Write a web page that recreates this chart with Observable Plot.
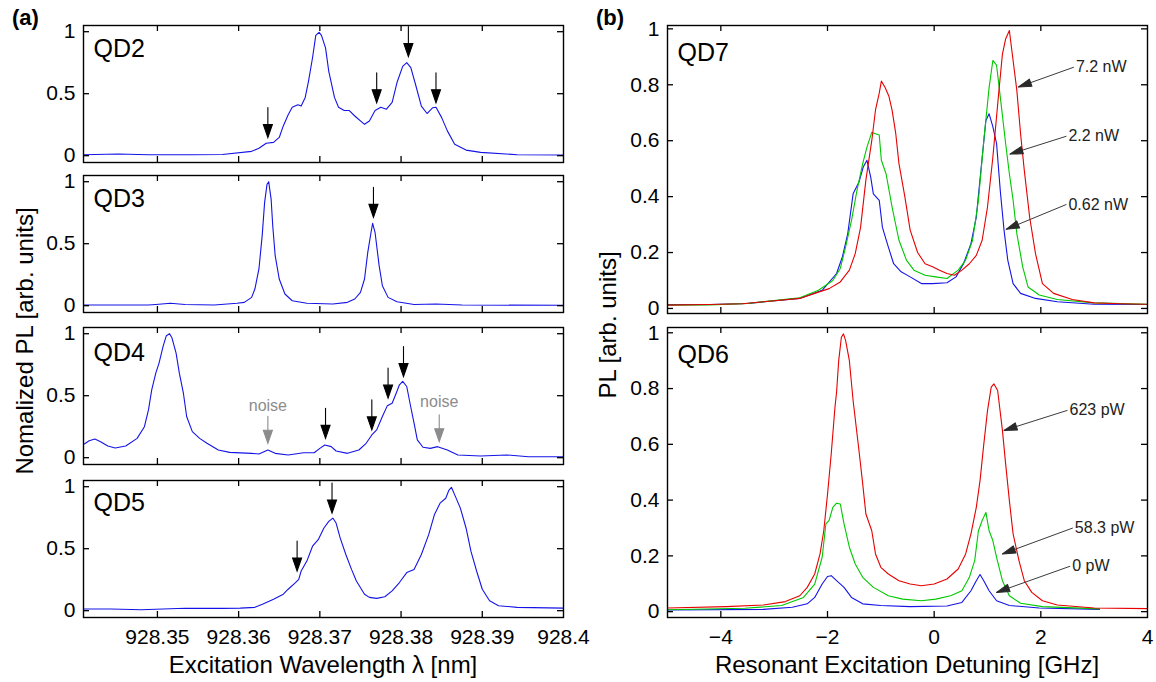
<!DOCTYPE html>
<html><head><meta charset="utf-8">
<script src="https://cdn.jsdelivr.net/npm/d3@7"></script>
<script src="https://cdn.jsdelivr.net/npm/@observablehq/plot@0.6"></script>
<style>
html,body{margin:0;padding:0;background:#fff;}
#chart{position:relative;width:1156px;height:682px;overflow:hidden;font-family:"Liberation Sans",Arial,Helvetica,sans-serif;color:#000;}
#chart svg{position:absolute;}
.lbl{position:absolute;white-space:nowrap;line-height:1;}
</style></head><body><div id="chart"></div>
<script>
// ---------- Panel (a): excitation wavelength scans ----------
const qd2Wl = [928.3409,928.3452,928.3489,928.3543,928.3580,928.3616,928.3625,928.3634,928.3643,928.3650,928.3655,928.3661,928.3666,928.3673,928.3677,928.3682,928.3686,928.3691,928.3695,928.3699,928.3702,928.3707,928.3711,928.3718,928.3723,928.3730,928.3736,928.3743,928.3755,928.3761,928.3768,928.3775,928.3782,928.3789,928.3795,928.3802,928.3807,928.3812,928.3818,928.3825,928.3832,928.3839,928.3843,928.3850,928.3857,928.3866,928.3880,928.3898,928.3943,928.4000];
const qd2Pl = [0.008,0.013,0.008,0.008,0.010,0.035,0.06,0.10,0.107,0.147,0.24,0.33,0.39,0.41,0.40,0.47,0.60,0.79,0.97,0.995,0.97,0.87,0.68,0.47,0.39,0.365,0.365,0.32,0.253,0.28,0.365,0.39,0.375,0.43,0.59,0.72,0.75,0.71,0.57,0.40,0.34,0.387,0.39,0.307,0.20,0.093,0.045,0.027,0.008,0.005];
const qd2ArrowWl = [928.3636,928.3770,928.3809,928.3843];
const qd2ArrowPl = [0.147,0.427,0.80,0.427];

const qd3Wl = [928.3409,928.3489,928.3498,928.3516,928.3534,928.3570,928.3598,928.3607,928.3616,928.3620,928.3625,928.3629,928.3632,928.3635,928.3637,928.3640,928.3642,928.3645,928.3650,928.3657,928.3666,928.3684,928.3716,928.3734,928.3743,928.3750,928.3755,928.3759,928.3763,928.3765,928.3768,928.3773,928.3777,928.3784,928.3795,928.3816,928.3843,928.3875,928.4000];
const qd3Pl = [0.005,0.005,0.01,0.019,0.01,0.005,0.019,0.027,0.067,0.134,0.296,0.565,0.833,0.98,1.0,0.86,0.645,0.403,0.215,0.094,0.04,0.019,0.013,0.027,0.054,0.108,0.215,0.43,0.59,0.664,0.59,0.323,0.161,0.067,0.032,0.01,0.013,0.005,0.003];
const qd3ArrowWl = [928.3766];
const qd3ArrowPl = [0.712];

const qd4Wl = [928.3410,928.3416,928.3423,928.3430,928.3439,928.3448,928.3461,928.3475,928.3484,928.3489,928.3493,928.3498,928.3502,928.3507,928.3511,928.3515,928.3518,928.3523,928.3527,928.3532,928.3536,928.3543,928.3552,928.3561,928.3575,928.3589,928.3616,928.3625,928.3636,928.3645,928.3661,928.3680,928.3693,928.3700,928.3706,928.3714,928.3720,928.3734,928.3748,928.3757,928.3764,928.3770,928.3777,928.3783,928.3789,928.3794,928.3798,928.3802,928.3807,928.3811,928.3816,928.3820,928.3827,928.3836,928.3845,928.3857,928.3870,928.3898,928.3930,928.3957,928.4000];
const qd4Pl = [0.11,0.137,0.151,0.129,0.094,0.078,0.094,0.156,0.25,0.385,0.547,0.682,0.763,0.898,0.984,1.0,0.965,0.844,0.682,0.52,0.332,0.21,0.156,0.116,0.062,0.043,0.035,0.03,0.062,0.035,0.022,0.04,0.04,0.075,0.102,0.089,0.054,0.035,0.062,0.116,0.183,0.224,0.332,0.418,0.439,0.52,0.588,0.615,0.574,0.439,0.278,0.143,0.084,0.075,0.089,0.062,0.022,0.013,0.022,0.008,0.008];
const qd4ArrowWl = [928.3707,928.3764,928.3784,928.3803];
const qd4ArrowPl = [0.156,0.224,0.48,0.655];
const qd4NoiseWl = [928.3636,928.3847];
const qd4NoisePl = [0.116,0.129];
const qd4NoiseLabelPl = [0.42,0.447];
const noiseText = "noise";

const qd5Wl = [928.3410,928.3443,928.3480,928.3534,928.3580,928.3602,928.3620,928.3630,928.3643,928.3655,928.3661,928.3670,928.3674,928.3677,928.3684,928.3691,928.3698,928.3705,928.3711,928.3716,928.3720,928.3725,928.3732,928.3739,928.3745,928.3755,928.3761,928.3770,928.3780,928.3789,928.3798,928.3807,928.3816,928.3825,928.3834,928.3841,928.3848,928.3855,928.3859,928.3862,928.3867,928.3873,928.3880,928.3886,928.3893,928.3900,928.3909,928.3920,928.3943,928.4000];
const qd5Pl = [0.013,0.013,0.008,0.019,0.019,0.021,0.027,0.053,0.093,0.133,0.173,0.227,0.253,0.32,0.40,0.52,0.573,0.667,0.72,0.747,0.707,0.587,0.453,0.333,0.24,0.133,0.107,0.099,0.112,0.16,0.227,0.307,0.333,0.453,0.613,0.773,0.867,0.907,0.973,0.995,0.92,0.827,0.667,0.48,0.32,0.173,0.08,0.04,0.027,0.021];
const qd5ArrowWl = [928.3672,928.3715];
const qd5ArrowPl = [0.32,0.787];

const aTicks = [928.35,928.36,928.37,928.38,928.39];
const aTickLabels = [928.35,928.36,928.37,928.38,928.39,928.4];
const aYTicks = [0,0.5,1];

// ---------- Panel (b): resonant excitation detuning ----------
const qd7RedGHz = [-5,-4.2,-3.6,-3.2,-2.52,-2.24,-1.97,-1.76,-1.59,-1.48,-1.38,-1.28,-1.17,-1.10,-1.03,-0.99,-0.92,-0.85,-0.79,-0.72,-0.66,-0.55,-0.45,-0.31,-0.17,-0.03,0.10,0.24,0.38,0.52,0.66,0.79,0.90,1.0,1.10,1.21,1.28,1.34,1.41,1.48,1.55,1.62,1.69,1.79,1.90,2.03,2.24,2.59,3.0,3.5,4.0];
const qd7RedPl = [0.012,0.014,0.017,0.024,0.036,0.054,0.071,0.095,0.137,0.196,0.29,0.46,0.60,0.71,0.77,0.813,0.79,0.76,0.71,0.625,0.518,0.40,0.28,0.20,0.16,0.149,0.137,0.125,0.119,0.137,0.16,0.19,0.244,0.363,0.54,0.77,0.91,0.964,0.994,0.887,0.78,0.625,0.494,0.327,0.196,0.089,0.054,0.032,0.020,0.017,0.015];
const qd7GreenGHz = [-5,-4.2,-3.5,-2.52,-2.17,-1.90,-1.76,-1.66,-1.55,-1.45,-1.34,-1.26,-1.17,-1.10,-1.03,-0.99,-0.90,-0.79,-0.66,-0.52,-0.38,-0.17,0.03,0.24,0.45,0.59,0.72,0.83,0.93,1.03,1.10,1.17,1.24,1.34,1.41,1.48,1.55,1.66,1.76,1.97,2.31,3.0,4.0];
const qd7GreenPl = [0.012,0.013,0.018,0.038,0.065,0.10,0.143,0.22,0.315,0.42,0.518,0.577,0.63,0.625,0.62,0.53,0.48,0.363,0.244,0.173,0.137,0.119,0.113,0.107,0.137,0.173,0.244,0.387,0.60,0.79,0.887,0.87,0.756,0.59,0.482,0.387,0.268,0.149,0.077,0.048,0.032,0.02,0.015];
const qd7BlueGHz = [-5,-4.2,-3.5,-2.52,-2.10,-1.83,-1.72,-1.62,-1.52,-1.41,-1.33,-1.26,-1.19,-1.14,-1.03,-0.97,-0.86,-0.76,-0.62,-0.45,-0.24,-0.03,0.24,0.41,0.55,0.69,0.79,0.90,0.97,1.03,1.10,1.17,1.24,1.31,1.38,1.48,1.62,1.90,2.31,3.0,4.0];
const qd7BluePl = [0.014,0.014,0.018,0.036,0.065,0.125,0.185,0.268,0.41,0.452,0.506,0.53,0.47,0.41,0.387,0.29,0.22,0.16,0.131,0.113,0.089,0.089,0.092,0.113,0.16,0.232,0.327,0.54,0.672,0.696,0.65,0.59,0.42,0.28,0.173,0.089,0.054,0.036,0.024,0.015,0.014];
const qd7Labels = ["7.2 nW","2.2 nW","0.62 nW"];
const qd7LabelGHz = [2.62,2.48,2.48];
const qd7LabelPl = [0.863,0.616,0.372];
const qd7TipGHz = [1.58,1.42,1.35];
const qd7TipPl = [0.792,0.552,0.283];

const qd6RedGHz = [-5,-3.9,-3.2,-2.79,-2.52,-2.38,-2.24,-2.14,-2.07,-2.0,-1.93,-1.86,-1.83,-1.79,-1.74,-1.70,-1.66,-1.59,-1.52,-1.41,-1.34,-1.28,-1.17,-1.10,-1.0,-0.86,-0.66,-0.45,-0.24,0,0.24,0.45,0.59,0.69,0.79,0.86,0.93,1.0,1.07,1.12,1.19,1.28,1.34,1.41,1.48,1.59,1.69,1.83,2.03,2.31,3.0,4.0];
const qd6RedPl = [0.013,0.018,0.024,0.036,0.057,0.087,0.135,0.207,0.29,0.42,0.566,0.733,0.787,0.90,0.984,0.996,0.972,0.90,0.757,0.578,0.458,0.35,0.29,0.207,0.159,0.135,0.111,0.099,0.093,0.099,0.117,0.153,0.207,0.279,0.374,0.47,0.60,0.721,0.805,0.817,0.793,0.65,0.53,0.398,0.279,0.183,0.111,0.069,0.039,0.024,0.013,0.011];
const qd6GreenGHz = [-5,-3.55,-2.86,-2.45,-2.24,-2.10,-2.03,-1.97,-1.90,-1.83,-1.76,-1.69,-1.59,-1.48,-1.34,-1.14,-0.86,-0.59,-0.24,0.03,0.31,0.52,0.66,0.76,0.83,0.90,0.97,1.03,1.10,1.17,1.28,1.41,1.62,2.03,3.1];
const qd6GreenPl = [0.007,0.012,0.022,0.051,0.099,0.195,0.315,0.327,0.374,0.389,0.386,0.315,0.231,0.171,0.123,0.087,0.057,0.045,0.039,0.045,0.057,0.075,0.123,0.183,0.29,0.327,0.356,0.29,0.255,0.195,0.111,0.057,0.03,0.018,0.01];
const qd6BlueGHz = [-5,-3.2,-2.66,-2.38,-2.24,-2.10,-2.0,-1.93,-1.83,-1.69,-1.55,-1.34,-1.0,-0.45,0.24,0.52,0.69,0.79,0.86,0.93,1.03,1.17,1.41,1.97,3.1];
const qd6BluePl = [0.006,0.008,0.016,0.028,0.051,0.099,0.126,0.129,0.111,0.087,0.051,0.028,0.022,0.018,0.02,0.033,0.075,0.111,0.133,0.111,0.075,0.039,0.022,0.013,0.008];
const qd6Labels = ["623 pW","58.3 pW","0 pW"];
const qd6LabelGHz = [2.5,2.6,2.55];
const qd6LabelPl = [0.722,0.30,0.163];
const qd6TipGHz = [1.31,1.28,1.17];
const qd6TipPl = [0.65,0.207,0.069];

const bTicks = [-4,-2,0,2];
const bTickLabels = [-4,-2,0,2,4];
const bYTicks = [0,0.2,0.4,0.6,0.8,1];

// ---------- styles ----------
const FONT = '"Liberation Sans", Arial, Helvetica, sans-serif';
const BLUE = "#1414e6", RED = "#e60000", GREEN = "#00c800";
const chart = document.getElementById("chart");
const zip = (xs, ys) => xs.map((x, i) => ({x, y: ys[i]})).filter(d => d.y !== undefined);
const TICK = 6;

const downArrow = {draw(ctx, l) { const hl = 13, hw = 4.5;
  ctx.moveTo(0, 0); ctx.lineTo(0, -l + hl);
  ctx.moveTo(0, -l); ctx.lineTo(-hw, -l + hl); ctx.lineTo(hw, -l + hl); ctx.closePath(); }};
const headOnly = {draw(ctx, l) { const hw = 3.8;
  ctx.moveTo(0, -l); ctx.lineTo(-hw, 0); ctx.lineTo(hw, 0); ctx.closePath(); }};

function subplot({left, width, mL, mR, frameTop, frameH, showX, xDomain, yDomain, xTicks, xLabelTicks, xFmt, yTicks, yFmt, marks}) {
  const mT = 8, mB = showX ? 45 : 8;
  const frameW = width - mL - mR;
  const svg = Plot.plot({
    width, height: mT + frameH + mB,
    marginLeft: mL, marginRight: mR, marginTop: mT, marginBottom: mB,
    style: {background: "transparent", fontFamily: FONT, fontSize: "21px", overflow: "visible", color: "black"},
    x: {domain: xDomain, label: null},
    y: {domain: yDomain, label: null},
    marks: [
      ...marks,
      // inward tick marks on all four sides
      Plot.tickX(xTicks, {x: d => d, insetTop: frameH - TICK, stroke: "black", strokeWidth: 1.3}),
      Plot.tickX(xTicks, {x: d => d, insetBottom: frameH - TICK, stroke: "black", strokeWidth: 1.3}),
      Plot.tickY(yTicks, {y: d => d, insetRight: frameW - TICK, stroke: "black", strokeWidth: 1.3}),
      Plot.tickY(yTicks, {y: d => d, insetLeft: frameW - TICK, stroke: "black", strokeWidth: 1.3}),
      Plot.axisY(yTicks, {anchor: "left", tickSize: 0, tickPadding: 8, tickFormat: yFmt, fontSize: 21, label: null}),
      showX ? Plot.axisX(xLabelTicks, {anchor: "bottom", tickSize: 0, tickPadding: 12, tickFormat: xFmt, fontSize: 21, label: null})
            : Plot.axisX([], {anchor: "bottom", tickSize: 0, label: null}),
      Plot.frame({stroke: "black", strokeWidth: 1.4})
    ]
  });
  svg.style.left = left + "px";
  svg.style.top = (frameTop - mT) + "px";
  chart.append(svg);
}

// Panel (a)
const aDomain = [928.3409, 928.4];
const aYDomain = [-0.055, 1.05];
const aFmt = d => String(d);
function qdLabel(txt, dy) {
  return Plot.text([txt], {frameAnchor: "top-left", dx: 10, dy, lineAnchor: "bottom", textAnchor: "start", fontSize: 25, fill: "black"});
}
function blackArrows(xs, ys, color = "black", len = 30) {
  return Plot.vector(zip(xs, ys), {x: "x", y: "y", rotate: 180, anchor: "end", length: len, shape: downArrow, stroke: color, fill: color, strokeWidth: 1.1, strokeLinejoin: "miter"});
}
const aPanels = [
  {top: 25, wl: qd2Wl, pl: qd2Pl, aw: qd2ArrowWl, ap: qd2ArrowPl, name: "QD2", dy: 31},
  {top: 175, wl: qd3Wl, pl: qd3Pl, aw: qd3ArrowWl, ap: qd3ArrowPl, name: "QD3", dy: 31},
  {top: 327, wl: qd4Wl, pl: qd4Pl, aw: qd4ArrowWl, ap: qd4ArrowPl, name: "QD4", dy: 33},
  {top: 480, wl: qd5Wl, pl: qd5Pl, aw: qd5ArrowWl, ap: qd5ArrowPl, name: "QD5", dy: 30}
];
aPanels.forEach((p, i) => {
  const marks = [
    Plot.line(zip(p.wl, p.pl), {x: "x", y: "y", stroke: BLUE, strokeWidth: 1.1}),
    blackArrows(p.aw, p.ap),
    qdLabel(p.name, p.dy)
  ];
  if (p.name === "QD4") {
    marks.push(blackArrows(qd4NoiseWl, qd4NoisePl, "#8c8c8c", 27));
    marks.push(Plot.text(zip(qd4NoiseWl, qd4NoiseLabelPl), {x: "x", y: "y", text: () => noiseText, fill: "#8c8c8c", fontSize: 16, lineAnchor: "middle"}));
  }
  subplot({left: 0, width: 600, mL: 83, mR: 37, frameTop: p.top, frameH: 137, showX: i === 3,
    xDomain: aDomain, yDomain: aYDomain, xTicks: aTicks, xLabelTicks: aTickLabels, xFmt: aFmt,
    yTicks: aYTicks, yFmt: d => String(d), marks});
});

// Panel (b)
const bDomain = [-5, 4];
const bFmt = d => d < 0 ? "\u2212" + Math.abs(d) : String(d);
function annot(labels, lx, ly, tx, ty, yDomain, frameTop, frameH) {
  const xs = d3.scaleLinear(bDomain, [667, 1147]);
  const ys = d3.scaleLinear(yDomain, [frameTop + frameH, frameTop]);
  const rows = labels.map((t, i) => {
    const dx = xs(tx[i]) - xs(lx[i]), dy = ys(ty[i]) - ys(ly[i]);
    return {t, lx: lx[i], ly: ly[i], tx: tx[i], ty: ty[i], ang: Math.atan2(dx, -dy) * 180 / Math.PI};
  });
  return [
    Plot.link(rows, {x1: "lx", y1: "ly", x2: "tx", y2: "ty", stroke: "#3a3a3a", strokeWidth: 1}),
    Plot.vector(rows, {x: "tx", y: "ty", rotate: "ang", anchor: "end", length: 13, shape: headOnly, stroke: "#2a2a2a", fill: "#2a2a2a", strokeWidth: 1}),
    Plot.text(rows, {x: "lx", y: "ly", text: "t", textAnchor: "start", dx: 2, fontSize: 16, fill: "#222", lineAnchor: "middle"})
  ];
}
const bPanels = [
  {top: 25, h: 288, yDomain: [-0.018, 1.012], name: "QD7", dy: 35, showX: false,
   red: [qd7RedGHz, qd7RedPl], green: [qd7GreenGHz, qd7GreenPl], blue: [qd7BlueGHz, qd7BluePl],
   ann: [qd7Labels, qd7LabelGHz, qd7LabelPl, qd7TipGHz, qd7TipPl]},
  {top: 327, h: 290, yDomain: [-0.021, 1.019], name: "QD6", dy: 35, showX: true,
   red: [qd6RedGHz, qd6RedPl], green: [qd6GreenGHz, qd6GreenPl], blue: [qd6BlueGHz, qd6BluePl],
   ann: [qd6Labels, qd6LabelGHz, qd6LabelPl, qd6TipGHz, qd6TipPl]}
];
bPanels.forEach(p => {
  const marks = [
    Plot.line(zip(...p.blue), {x: "x", y: "y", stroke: BLUE, strokeWidth: 1.1}),
    Plot.line(zip(...p.green), {x: "x", y: "y", stroke: GREEN, strokeWidth: 1.1}),
    Plot.line(zip(...p.red), {x: "x", y: "y", stroke: RED, strokeWidth: 1.1}),
    ...annot(...p.ann, p.yDomain, p.top, p.h),
    qdLabel(p.name, p.dy)
  ];
  subplot({left: 600, width: 556, mL: 67, mR: 9, frameTop: p.top, frameH: p.h, showX: p.showX,
    xDomain: bDomain, yDomain: p.yDomain, xTicks: bTicks, xLabelTicks: bTickLabels, xFmt: bFmt,
    yTicks: bYTicks, yFmt: d => String(d), marks});
});

// Titles and panel letters
function label(text, css) {
  const d = document.createElement("div");
  d.className = "lbl"; d.textContent = text;
  Object.assign(d.style, css);
  chart.append(d);
}
label("(a)", {left: "12px", top: "7px", fontSize: "22px", fontWeight: "bold"});
label("(b)", {left: "596px", top: "7px", fontSize: "22px", fontWeight: "bold"});
label("Excitation Wavelength \u03bb [nm]", {left: "323px", top: "653px", fontSize: "24px", transform: "translateX(-50%)"});
label("Resonant Excitation Detuning [GHz]", {left: "907px", top: "653px", fontSize: "24px", transform: "translateX(-50%)"});
label("Nomalized PL [arb. units]", {left: "25px", top: "341px", fontSize: "24px", transform: "translate(-50%,-50%) rotate(-90deg)"});
label("PL [arb. units]", {left: "608px", top: "325px", fontSize: "24px", transform: "translate(-50%,-50%) rotate(-90deg)"});
</script></body></html>
